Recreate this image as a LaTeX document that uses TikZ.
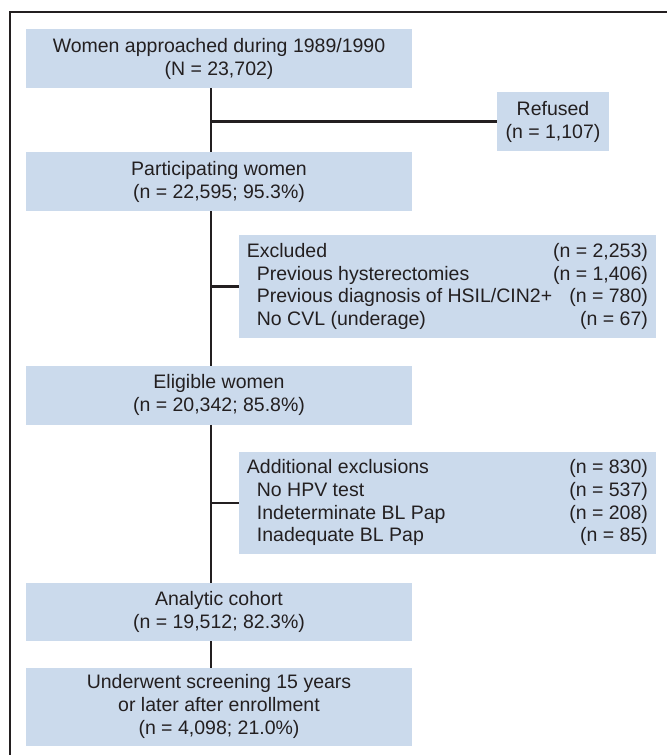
\documentclass[tikz,border=0pt]{standalone}
\usepackage{fontspec}
\setmainfont{Liberation Sans}
\definecolor{boxfill}{RGB}{203,218,236}
\definecolor{ink}{RGB}{35,31,32}
\newcommand{\rowlr}[2]{\makebox[401pt]{#1\hfill#2}}
\newcommand{\rowind}[2]{\makebox[401pt]{\hspace*{10pt}#1\hfill#2}}
\begin{document}
\begin{tikzpicture}[x=1pt,y=-1pt,
  box/.style={fill=boxfill, inner sep=0pt, text=ink,
    font=\fontsize{19.5}{23}\selectfont, align=center},
  listbox/.style={box, align=left, minimum width=416.7pt,
    font=\fontsize{19.5}{22.6}\selectfont},
  link/.style={draw=ink, line width=2.2pt}]
\useasboundingbox (0,0) rectangle (667,755);
\draw[ink, line width=1.3pt] (10,755) -- (10,12) -- (667,12);
\coordinate (trunk) at (211,0);

\node[box, minimum width=386pt, minimum height=59pt] (approached) at (219,58.5)
  {Women approached during 1989/1990\\(N = 23,702)};
\node[box, minimum width=112pt, minimum height=59pt] (refused) at (553,121.5)
  {Refused\\(n = 1,107)};
\node[box, minimum width=386pt, minimum height=59pt] (participating) at (219,181.5)
  {Participating women\\(n = 22,595; 95.3\%)};
\node[listbox, minimum height=103pt] (excluded) at (447.4,286.5)
  {\rowlr{Excluded}{(n = 2,253)}\\
   \rowind{Previous hysterectomies}{(n = 1,406)}\\
   \rowind{Previous diagnosis of HSIL/CIN2+}{(n = 780)}\\
   \rowind{No CVL (underage)}{(n = 67)}};
\node[box, minimum width=386pt, minimum height=58.7pt] (eligible) at (219,395.3)
  {Eligible women\\(n = 20,342; 85.8\%)};
\node[listbox, minimum height=102.3pt] (additional) at (447.4,502.8)
  {\rowlr{Additional exclusions}{(n = 830)}\\
   \rowind{No HPV test}{(n = 537)}\\
   \rowind{Indeterminate BL Pap}{(n = 208)}\\
   \rowind{Inadequate BL Pap}{(n = 85)}};
\node[box, minimum width=386pt, minimum height=58pt] (analytic) at (219,612)
  {Analytic cohort\\(n = 19,512; 82.3\%)};
\node[box, minimum width=386pt, minimum height=77.7pt] (screened) at (219,706.8)
  {Underwent screening 15 years\\or later after enrollment\\(n = 4,098; 21.0\%)};

\draw[link] (approached.south -| trunk) -- (participating.north -| trunk);
\draw[link] (participating.south -| trunk) -- (eligible.north -| trunk);
\draw[link] (eligible.south -| trunk) -- (analytic.north -| trunk);
\draw[link] (analytic.south -| trunk) -- (screened.north -| trunk);
\draw[link] (refused.west -| trunk) -- (refused.west);
\draw[link] (excluded.west -| trunk) -- (excluded.west);
\draw[link] (additional.west -| trunk) -- (additional.west);
\end{tikzpicture}
\end{document}
